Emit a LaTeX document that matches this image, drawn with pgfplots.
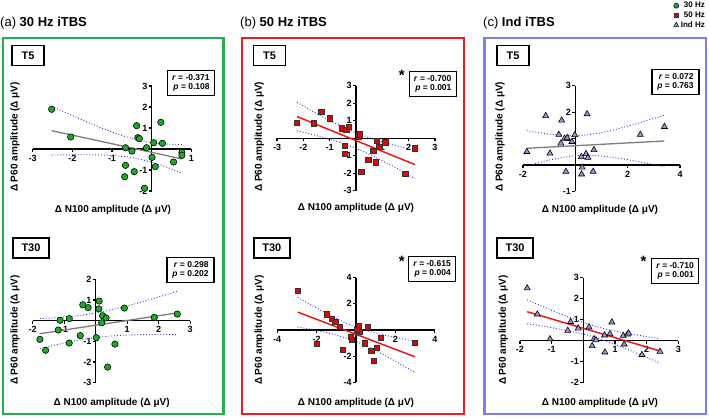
\documentclass[border=0pt]{standalone}
\usepackage{pgfplots}
\pgfplotsset{compat=1.18}
\usepackage{fontspec}
\setmainfont{Liberation Sans}
\definecolor{gfr}{RGB}{40,175,80}
\definecolor{rfr}{RGB}{235,30,35}
\definecolor{bfr}{RGB}{125,125,235}
\definecolor{gmk}{RGB}{30,170,40}
\definecolor{rmk}{RGB}{210,10,10}
\definecolor{tmk}{RGB}{150,150,210}
\definecolor{bandc}{RGB}{50,50,215}
\definecolor{fitgray}{RGB}{125,125,125}
\definecolor{fitred}{RGB}{235,25,25}
\pgfplotsset{
 prism/.style={axis lines=middle, axis line style={-, line width=1.5pt, black},
   enlargelimits=false, clip=false, anchor=south west,
   tick align=outside, major tick length=3pt,
   every tick/.style={line width=1.3pt, black},
   tick label style={font=\fontsize{9}{9}\selectfont\bfseries, inner sep=1.2pt},
   xticklabel style={yshift=-1.5pt},
   xlabel={}, ylabel={}},
 bandl/.style={bandc, dotted, line width=0.9pt, smooth},
 fitg/.style={fitgray, line width=1.3pt},
 fitr/.style={fitred, line width=1.5pt},
 gpt/.style={only marks, mark=*, mark size=3.2pt, mark options={fill=gmk, draw=black, line width=0.6pt}},
 rpt/.style={only marks, mark=square*, mark size=2.7pt, mark options={fill=rmk, draw=black!80, line width=0.6pt}},
 tpt/.style={only marks, mark=triangle*, mark size=3.5pt, mark options={fill=tmk, draw=black, line width=0.6pt}},
}
\tikzset{
 rpbox/.style={draw, line width=1.1pt, align=right, inner sep=2pt, font=\fontsize{8.5}{9.5}\selectfont\bfseries, minimum width=47pt, minimum height=25pt},
 tbox/.style={draw, line width=1.5pt, inner sep=0pt, font=\fontsize{11}{11}\selectfont\bfseries, minimum height=20pt},
 ylab/.style={rotate=90, font=\fontsize{10}{10}\selectfont\bfseries},
 xlab/.style={font=\fontsize{10}{10}\selectfont\bfseries},
 ttl/.style={anchor=west, inner sep=0pt, font=\fontsize{13}{13}\selectfont},
 star/.style={anchor=base, inner sep=0pt, font=\fontsize{15}{15}\selectfont\bfseries},
}
\begin{document}
\begin{tikzpicture}[x=1pt,y=1pt]
\path[use as bounding box] (0,0) rectangle (709,418);
% frames
\draw[gfr, line width=2.3pt] (3,380) rectangle (223.5,4);
\draw[rfr, line width=2.3pt] (242,380) rectangle (464,4);
\draw[bfr, line width=2.3pt] (484.5,380) rectangle (706,4);
% titles
\node[ttl] at (0,395) {(a) \textbf{30 Hz iTBS}};
\node[ttl] at (240,395) {(b) \textbf{50 Hz iTBS}};
\node[ttl] at (483,395) {(c) \textbf{Ind iTBS}};
% T boxes
\node[tbox, minimum width=32pt] at (28,362.5) {T5};
\node[tbox, minimum width=36pt] at (31,170) {T30};
\node[tbox, minimum width=32pt] at (269.5,362.5) {T5};
\node[tbox, minimum width=36pt] at (271.8,170) {T30};
\node[tbox, minimum width=32pt] at (513,362.5) {T5};
\node[tbox, minimum width=36pt] at (515,170) {T30};
% r p boxes
\node[rpbox] at (190.9,335) {\textit{r} = -0.371\\\textit{p} = 0.108};
\node[rpbox] at (190.5,148.3) {\textit{r} = 0.298\\\textit{p} = 0.202};
\node[rpbox] at (432.7,334) {\textit{r} = -0.700\\\textit{p} = 0.001};
\node[rpbox] at (432,149) {\textit{r} = -0.615\\\textit{p} = 0.004};
\node[rpbox] at (675.5,336.3) {\textit{r} = 0.072\\\textit{p} = 0.763};
\node[rpbox] at (675,147.2) {\textit{r} = -0.710\\\textit{p} = 0.001};
% stars
\node[star] at (401.7,337.5) {*};
\node[star] at (401.7,151.5) {*};
\node[star] at (643.5,151.5) {*};
% axis labels
\node[ylab] at (15,281) {Δ P60 amplitude (Δ μV)};
\node[xlab] at (113,208) {Δ N100 amplitude (Δ μV)};
\node[ylab] at (15,88) {Δ P60 amplitude (Δ μV)};
\node[xlab] at (111.7,15.3) {Δ N100 amplitude (Δ μV)};
\node[ylab] at (259.3,281.3) {Δ P60 amplitude (Δ μV)};
\node[xlab] at (356,210.3) {Δ N100 amplitude (Δ μV)};
\node[ylab] at (259.3,88) {Δ P60 amplitude (Δ μV)};
\node[xlab] at (356,15.3) {Δ N100 amplitude (Δ μV)};
\node[ylab] at (500,281.3) {Δ P60 amplitude (Δ μV)};
\node[xlab] at (600,208) {Δ N100 amplitude (Δ μV)};
\node[ylab] at (503.3,88) {Δ P60 amplitude (Δ μV)};
\node[xlab] at (600,14.7) {Δ N100 amplitude (Δ μV)};

% ---- (a) T5
\begin{axis}[prism, at={(32.6pt,227pt)}, x=39.7pt, y=21pt, xmin=-3, xmax=1, ymin=-2, ymax=3,
  xtick={-3,-2,-1,1}, xticklabels={-3,-2,-1,1}, ytick={-2,-1,1,2,3}, yticklabels={-2,-1,1,2,3}]
\addplot[bandl] coordinates {(-2.52,2.035)(-2,1.594)(-1.5,1.186)(-1,0.808)(-0.5,0.499)(0,0.307)(0.4,0.234)(0.76,0.206)};
\addplot[bandl] coordinates {(-2.52,-0.289)(-2,-0.274)(-1.5,-0.276)(-1,-0.308)(-0.5,-0.409)(0,-0.627)(0.4,-0.882)(0.76,-1.15)};
\addplot[fitg] coordinates {(-2.52,0.873)(0.76,-0.472)};
\addplot[gpt] coordinates {(-2.52,1.89)(-2.04,0.57)(-0.66,0.06)(-0.50,-0.10)(-0.66,-0.78)(-0.68,-1.32)(-0.44,-1.08)(-0.38,1.11)(-0.35,0.54)(-0.31,0.49)(-0.13,0.06)(0.05,0.30)(0.01,-0.40)(0.09,-0.84)(0.23,1.27)(0.27,0.27)(0.55,-0.62)(0.76,-0.16)(0.76,-0.30)(-0.18,-1.87)};
\end{axis}

% ---- (a) T30
\begin{axis}[prism, at={(32.7pt,35.2pt)}, x=31.5pt, y=20.7pt, xmin=-2, xmax=3, ymin=-3, ymax=2,
  xtick={-2,-1,1,2,3}, xticklabels={-2,-1,1,2,3}, ytick={-3,-2,-1,1,2}, yticklabels={-3,-2,-1,1,2}]
\addplot[bandl] coordinates {(-1.77,0.107)(-1.2,0.150)(-0.6,0.236)(0,0.374)(0.6,0.564)(1.2,0.796)(1.9,1.101)(2.59,1.423)};
\addplot[bandl] coordinates {(-1.77,-1.361)(-1.2,-1.142)(-0.6,-0.952)(0,-0.814)(0.6,-0.728)(1.2,-0.684)(1.9,-0.667)(2.59,-0.671)};
\addplot[fitg] coordinates {(-1.77,-0.627)(2.59,0.376)};
\addplot[gpt] coordinates {(-1.77,-0.90)(-1.59,-1.43)(-1.19,-0.45)(-1.13,0.02)(-0.84,0.10)(-0.84,-1.08)(-0.49,-0.72)(-0.41,0.77)(-0.24,0.63)(0.11,0.95)(0.10,0.57)(0.22,0.24)(0.33,0.13)(0.19,-0.10)(0.02,-0.82)(0.61,-1.13)(0.38,-2.24)(0.91,0.61)(1.86,0.16)(2.59,0.32)};
\end{axis}

% ---- (b) T5
\begin{axis}[prism, at={(277.1pt,227.2pt)}, x=26.3pt, y=17.5pt, xmin=-3, xmax=3, ymin=-3, ymax=3,
  xtick={-3,-2,-1,1,2,3}, xticklabels={-3,-2,-1,1,2,3}, ytick={-3,-2,-1,1,2,3}, yticklabels={-3,-2,-1,1,2,3}]
\addplot[bandl] coordinates {(-2.24,2.048)(-1.5,1.422)(-0.75,0.830)(0,0.317)(0.75,-0.088)(1.5,-0.414)(2.24,-0.694)};
\addplot[bandl] coordinates {(-2.24,0.434)(-1.5,0.154)(-0.75,-0.172)(0,-0.577)(0.75,-1.090)(1.5,-1.682)(2.24,-2.308)};
\addplot[fitr] coordinates {(-2.24,1.241)(2.24,-1.501)};
\addplot[rpt] coordinates {(-2.24,0.89)(-1.60,0.86)(-1.32,1.50)(-1.00,1.14)(-0.53,0.57)(-0.37,0.47)(-0.28,0.66)(-0.43,-0.42)(-0.43,-0.88)(0.10,0.09)(0.15,0.23)(0.20,-1.91)(0.47,-1.24)(0.65,-0.71)(0.79,-0.14)(0.76,-1.37)(0.89,-0.50)(1.11,-0.23)(1.87,-2.04)(2.24,-0.57)};
\end{axis}

% ---- (b) T30
\begin{axis}[prism, at={(277.2pt,35.6pt)}, x=19.7pt, y=13.1pt, xmin=-4, xmax=4, ymin=-4, ymax=4,
  xtick={-4,-2,2,4}, xticklabels={-4,-2,2,4}, ytick={-4,-2,2,4}, yticklabels={-4,-2,2,4}]
\addplot[bandl] coordinates {(-2.96,2.498)(-2,1.672)(-1,0.873)(0,0.219)(1,-0.236)(2,-0.565)(2.99,-0.841)};
\addplot[bandl] coordinates {(-2.96,0.234)(-2,-0.040)(-1,-0.387)(0,-0.879)(1,-1.570)(2,-2.387)(2.99,-3.245)};
\addplot[fitr] coordinates {(-2.96,1.366)(2.99,-2.043)};
\addplot[rpt] coordinates {(-2.96,3.00)(-2.00,-1.07)(-1.49,1.20)(-1.22,0.84)(-1.05,0.61)(-0.83,0.23)(-0.66,-1.53)(-0.25,-0.51)(-0.20,-0.76)(0.15,0.31)(0.20,-0.15)(0.05,0.00)(0.44,-1.02)(0.61,0.23)(0.78,-1.60)(0.90,-2.34)(1.07,-1.37)(1.27,-0.59)(2.99,-0.99)};
\end{axis}

% ---- (c) T5
\begin{axis}[prism, at={(522.9pt,226.6pt)}, x=26.2pt, y=26.4pt, xmin=-2, xmax=4, ymin=-1, ymax=3,
  xtick={-2,2,4}, xticklabels={-2,2,4}, ytick={-1,1,2,3}, yticklabels={-1,1,2,3},
  legend style={at={(1.171,1.8125)}, anchor=north east, draw=none, fill=none,
    font=\fontsize{8}{8}\selectfont\bfseries, inner sep=0pt, row sep=-1.5pt, cells={anchor=east}}]
\addlegendimage{only marks, mark=*, mark size=2.5pt, mark options={fill=gmk, draw=black, line width=0.5pt}}
\addlegendimage{only marks, mark=square*, mark size=2.3pt, mark options={fill=rmk, draw=black!80, line width=0.5pt}}
\addlegendimage{only marks, mark=triangle*, mark size=2.8pt, mark options={fill=tmk, draw=black, line width=0.5pt}}
\legend{30 Hz, 50 Hz, Ind Hz}
\addplot[bandl, forget plot] coordinates {(-1.85,1.301)(-1,1.169)(0,1.106)(1,1.225)(2,1.471)(3,1.764)(3.4,1.886)};
\addplot[bandl, forget plot] coordinates {(-1.85,-0.037)(-1,0.185)(0,0.354)(1,0.341)(2,0.201)(3,0.014)(3.4,-0.066)};
\addplot[fitg, forget plot] coordinates {(-1.85,0.632)(3.4,0.910)};
\addplot[tpt, forget plot] coordinates {(-1.85,0.50)(-1.13,1.86)(-0.97,0.44)(-0.52,1.69)(-0.63,1.15)(-0.55,0.82)(-0.41,1.00)(-0.31,1.03)(-0.13,0.88)(-0.02,1.14)(-0.36,-0.25)(0.23,0.31)(0.26,-0.09)(0.24,-0.35)(0.41,0.42)(0.48,0.28)(0.45,1.93)(0.71,0.57)(0.68,-0.25)(2.48,1.15)(3.40,1.45)};
\end{axis}

% ---- (c) T30
\begin{axis}[prism, at={(519.9pt,35.3pt)}, x=31.7pt, y=21pt, xmin=-2, xmax=3, ymin=-2, ymax=3,
  xtick={-2,-1,1,2,3}, xticklabels={-2,-1,1,2,3}, ytick={-2,-1,1,2,3}, yticklabels={-2,-1,1,2,3}]
\addplot[bandl] coordinates {(-1.77,1.951)(-1,1.450)(0,0.865)(0.5,0.636)(1,0.459)(2,0.191)(2.42,0.094)};
\addplot[bandl] coordinates {(-1.77,0.807)(-1,0.622)(0,0.315)(0.5,0.098)(1,-0.171)(2,-0.795)(2.42,-1.072)};
\addplot[fitr] coordinates {(-1.77,1.379)(2.42,-0.489)};
\addplot[tpt] coordinates {(-1.77,2.50)(-1.45,1.26)(-1.05,0.08)(-0.49,0.48)(-0.40,0.90)(-0.16,0.59)(0.18,0.64)(0.28,-0.25)(0.34,0.08)(0.40,0.03)(0.67,0.26)(0.68,-0.55)(0.84,0.32)(0.90,0.88)(1.26,0.24)(1.29,-0.17)(1.39,0.30)(1.43,0.35)(1.85,-0.67)(2.42,-0.52)};
\end{axis}
\end{tikzpicture}
\end{document}
